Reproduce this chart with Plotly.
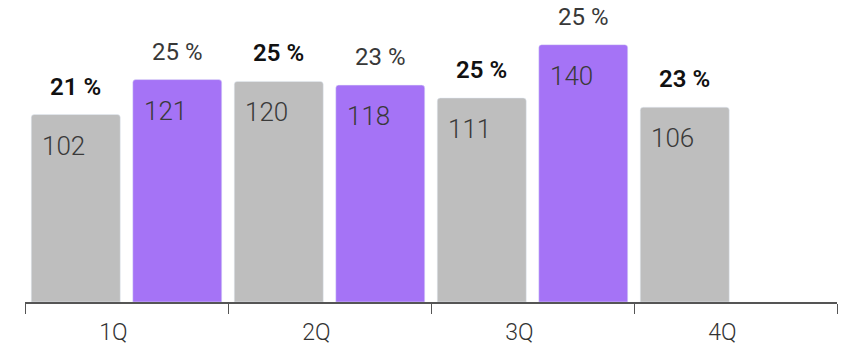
import plotly.graph_objects as go

categories = ["1Q", "2Q", "3Q", "4Q"]
prev_values = [102, 120, 111, 106]
curr_values = [121, 118, 140, None]
prev_pct = ["21 %", "25 %", "25 %", "23 %"]
curr_pct = ["25 %", "23 %", "25 %", None]

GRAY = "#BEBEBE"
PURPLE = "#A573F6"
FONT = "Roboto, 'Open Sans', sans-serif"

fig = go.Figure()
fig.add_trace(go.Bar(x=categories, y=prev_values, marker=dict(color=GRAY, cornerradius=3),
                     hoverinfo="skip", showlegend=False))
fig.add_trace(go.Bar(x=categories, y=curr_values, marker=dict(color=PURPLE, cornerradius=3),
                     hoverinfo="skip", showlegend=False))

slot = 101.5  # pixel width of each bar slot
annotations = []
for series, vals, pcts, off, bold in [
    (0, prev_values, prev_pct, -slot / 2, True),
    (1, curr_values, curr_pct, slot / 2, False),
]:
    for c, v, p in zip(categories, vals, pcts):
        if v is None:
            continue
        # value inside bar, near top-left
        annotations.append(dict(
            x=c, y=v, xref="x", yref="y", text=str(v), showarrow=False,
            xanchor="left", yanchor="middle", xshift=off - 44.5 + 9, yshift=-31,
            font=dict(family=FONT, size=26, color="#3a3a3a", weight=300),
        ))
        # percent above bar
        annotations.append(dict(
            x=c, y=v, xref="x", yref="y", text=p, showarrow=False,
            xanchor="center", yanchor="middle", xshift=off, yshift=28,
            font=dict(family=FONT, size=24, color="#111" if bold else "#383838",
                      weight=600 if bold else 400),
        ))

fig.update_layout(
    annotations=annotations,
    barmode="group", bargap=0, bargroupgap=0.123,
    width=846, height=353,
    margin=dict(l=25, r=9, t=0, b=51),
    plot_bgcolor="white", paper_bgcolor="white",
    xaxis=dict(showline=True, linecolor="#555", linewidth=1.5, ticks="outside",
               tickson="boundaries", ticklen=10, tickcolor="#555", tickwidth=1.2,
               showgrid=False, tickfont=dict(family=FONT, size=23, color="#333", weight=300),
               ticklabelshift=-13, ticklabelstandoff=9,
               range=[-0.5, 3.5]),
    yaxis=dict(visible=False, range=[0, 164.3], showgrid=False, zeroline=False),
)

fig.write_html("out.html")
